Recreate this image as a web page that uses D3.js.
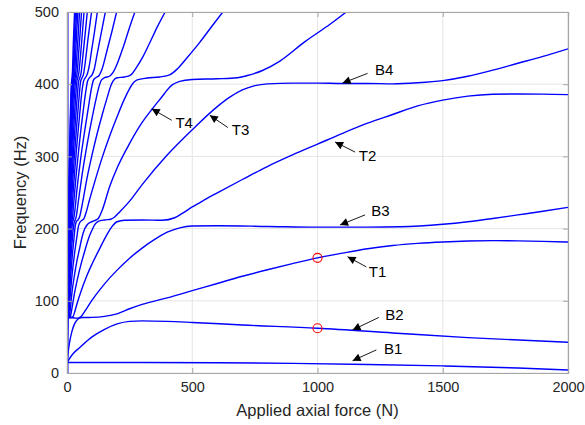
<!DOCTYPE html>
<html>
<head>
<meta charset="utf-8">
<script src="https://cdn.jsdelivr.net/npm/d3@7"></script>
<style>
  html, body { margin: 0; padding: 0; background: #ffffff; }
  svg { display: block; }
  text { font-family: "Liberation Sans", Arial, Helvetica, sans-serif; }
</style>
</head>
<body>
<svg id="chart" width="585" height="425"></svg>
<script>
// ---- tick labels ----
const xTicks = [0, 500, 1000, 1500, 2000];
const yTicks = [0, 100, 200, 300, 400, 500];
const xLabel = "Applied axial force (N)";
const yLabel = "Frequency (Hz)";

// ---- frequency branches [force N, frequency Hz] ----
const branch1 = [[0,14.5],[300,14.6],[600,14.3],[900,13.3],[1200,11.8],[1500,9.8],[1800,7],[2000,4.2]];
const branch2 = [[0,14],[10,20],[25,27],[50,35],[100,50],[150,60.5],[200,68],[250,71.5],[300,72.2],[400,71.5],[500,70],[700,66.5],[1000,62],[1300,55.5],[1600,49],[2000,42.5]];
const branch3 = [[0,15],[5,30],[10,42],[20,58],[30,68],[40,73.5],[50,76],[60,76.8],[80,76.9],[100,77],[150,78.5],[200,82],[250,89],[300,95],[400,104],[500,114],[600,124],[700,134],[800,143],[900,151.5],[1000,159.5],[1100,166],[1200,172],[1300,176.5],[1400,179.5],[1500,181.5],[1600,182.8],[1700,183.3],[1800,183],[1900,182.3],[2000,181.4]];
const branch4 = [[0,76],[20,76.5],[40,76],[55,78],[70,85],[100,101],[150,123.5],[200,142.5],[250,159],[300,173],[350,185],[400,195],[450,201],[500,203.5],[600,204],[800,203],[1000,202],[1200,202],[1330,202.5],[1500,206],[1600,209.5],[1700,214],[1800,219],[1900,224],[2000,229.5]];
const branch5 = [[0,77],[15,77],[24,78],[30,84],[40,96],[50,107],[80,135.5],[100,151],[130,172],[160,192],[180,203],[200,209.5],[230,211.5],[300,212],[380,211.5],[430,215],[460,221],[500,230],[550,240],[600,249.5],[700,268],[800,286],[900,302],[1000,317],[1100,332],[1200,346],[1300,358],[1400,370],[1500,378],[1600,383.5],[1700,386],[1800,386.5],[1900,386.3],[2000,385.5]];
const branch6 = [[0,77],[10,77],[14,79],[20,90],[30,110.5],[50,142.5],[70,168],[90,190],[100,198],[110,205],[125,210],[150,212],[175,213],[190,216],[210,223],[250,238],[300,261],[400,302],[500,337],[600,369],[650,382],[700,392],[750,398],[800,400.5],[900,401.5],[1000,401.5],[1100,401],[1200,401],[1300,400.5],[1400,402],[1500,405],[1600,411],[1700,419.5],[1800,429],[1900,438.5],[2000,449]];
const branch7 = [[0,77],[8,77.5],[12,85],[20,112],[30,136],[40,156],[50,172],[60,188],[70,199],[80,205],[95,209],[110,211],[125,214],[140,225],[170,258],[200,284],[250,318],[300,347],[350,370],[380,383],[400,392],[420,399],[450,404],[500,406.5],[600,407.5],[680,409],[720,412],[780,419],[850,432],[950,459],[1050,483],[1115,500]];
const branch8 = [[0,77],[6,78],[10,95],[20,135],[30,165],[40,190],[45,202],[52,209],[60,211.5],[68,214],[76,222],[90,240],[110,264],[140,298],[170,328],[200,355],[230,380],[250,394],[265,402],[280,406],[320,408.5],[370,410],[410,413],[440,421],[480,437],[530,458],[580,481],[622,500]];
const branch9 = [[0,0],[3.5,77],[5,80],[10,111],[20,158],[28,187],[33,204],[38,210],[44,212],[50,216],[60,232],[80,270],[100,302],[120,331],[140,357],[160,381],[175,398],[185,405],[200,409],[230,410],[255,413],[275,422],[300,436],[330,457],[360,479],[392,500]];
const branch10 = [[0,0],[3,78],[4.5,85],[10,127],[20,180],[25,200],[29,209],[33,212],[37,217],[45,237],[60,274],[80,316],[100,353],[115,378],[128,397],[138,406],[150,409],[170,411],[185,417],[200,428],[225,452],[250,479],[271,500]];
const branch11 = [[0,0],[2.3,78],[3.5,88],[8,129],[15,175],[20,202],[23,210],[26,213],[30,221],[40,255],[55,298],[70,334],[85,367],[97,393],[106,406],[115,409],[128,412],[140,421],[160,447],[180,474],[198,500]];
const branch12 = [[0,0],[2,78],[3,87],[8,143],[13,182],[17,206],[19.5,211],[22,215],[26,232],[35,268],[50,320],[65,364],[75,390],[82,404],[90,409],[100,413],[108,420],[120,441],[135,468],[153,500]];
const branch13 = [[0,0],[1.6,78],[3,96],[7,147],[11,184],[14,206],[16,211.5],[18,216],[22,238],[30,276],[40,319],[50,356],[60,391],[66,404],[73,409],[81,414],[88,424],[100,451],[110,473],[121,500]];
const branch14 = [[0,0],[1.3,78],[2.2,94],[6,148],[9,182],[12,206],[13.5,211],[15.5,218],[20,249],[28,293],[38,340],[47,377],[54,403],[60,409],[66,414],[72,428],[85,466],[98,500]];
const branch15 = [[0,0],[1.1,78],[2,95],[5,147],[8,183],[10.3,206],[11.5,211],[13,218],[17,250],[24,296],[32,341],[40,379],[46,403],[51,409],[56,415],[62,434],[72,468],[81,500]];
const branch16 = [[0,0],[1,80],[2,100],[5,158],[7,188],[8.9,206],[10,211],[11.2,218],[15,253],[20,292],[27,340],[34,380],[39.5,404],[43,409],[47,415],[52,432],[60,465],[68,500]];
const branch17 = [[0,0],[0.9,80],[1.5,95],[4,151],[6,185],[7.7,206],[8.7,211],[9.8,219],[13,254],[18,301],[24,347],[30,387],[34,404],[37,409],[40.5,416],[45,436],[52,469],[58,500]];
const branch18 = [[0,0],[0.8,80],[1.5,100],[4,161],[5.5,189],[6.8,206],[7.6,211],[8.6,219],[12,264],[16,305],[21,350],[26,390],[29.5,404],[32,409],[35,416],[40,443],[45,470],[50,500]];
const branch19 = [[0,0],[0.7,80],[1.5,105],[3.5,160],[5,190],[6,206],[6.8,211],[7.6,219],[10,257],[14,307],[19,357],[23,391],[26,404],[28.5,409],[31,418],[35,447],[40,480],[43.6,500]];
const branch20 = [[0,0],[0.6,78],[1,92],[3,156],[4.5,190],[5.4,206],[6,211],[6.8,219],[9,256],[12,301],[16,350],[20,390],[23,404],[25,409],[27.5,418],[31,449],[35,478],[38.3,500]];
const branch21 = [[0,0],[0.5,78],[1,97],[3,165],[4,193],[4.9,206],[5.4,211],[6,219],[8,256],[11,306],[14,349],[18,392],[20.6,405],[22.5,409],[24.5,418],[28,452],[31,477],[34,500]];
const branch22 = [[0,0],[0.5,80],[1,102],[2.5,160],[3.5,189],[4.4,206],[4.9,211],[5.4,219],[7,248],[10,305],[13,352],[16.5,395],[18.5,405],[20,409],[22,419],[25,454],[28,482],[30.3,500]];
const edgeBranch = [[0,0],[0,500]];

const branches = [branch1, branch2, branch3, branch4, branch5, branch6, branch7, branch8, branch9, branch10,
  branch11, branch12, branch13, branch14, branch15, branch16, branch17, branch18, branch19, branch20,
  branch21, branch22];

// ---- highlighted points ----
const markerForce = [1000, 1000];
const markerFreq = [62, 159.5];

// ---- annotations: label, arrow tip / tail / text position [N, Hz] ----
const annLabels = ["B1", "B2", "T1", "B3", "T2", "B4", "T4", "T3"];
const annTip = [[1140, 17], [1140, 59.5], [1120, 161], [1090, 205], [1070, 320], [1100, 401.5], [338, 366], [570, 357]];
const annTail = [[1235, 32], [1245, 77], [1195, 147], [1190, 219], [1150, 306], [1200, 415], [418, 350], [642, 340]];
const annText = [[1265, 27], [1270, 73], [1205, 133], [1215, 217], [1165, 293], [1230, 413], [433, 339], [658, 330]];

// ---- drawing ----
const svg = d3.select("#chart");
const margin = {left: 67, right: 17, top: 12, bottom: 52};
const W = 585, H = 425;
const x = d3.scaleLinear().domain([0, 2000]).range([margin.left, W - margin.right]);
const y = d3.scaleLinear().domain([0, 500]).range([H - margin.bottom, margin.top]);

const defs = svg.append("defs");
defs.append("clipPath").attr("id", "plotclip").append("rect")
  .attr("x", x(0)).attr("y", y(500)).attr("width", x(2000) - x(0)).attr("height", y(0) - y(500));
defs.append("marker").attr("id", "arrowhead").attr("viewBox", "0 0 10 10")
  .attr("refX", 10).attr("refY", 5).attr("markerWidth", 11).attr("markerHeight", 8)
  .attr("markerUnits", "userSpaceOnUse").attr("orient", "auto")
  .append("path").attr("d", "M0,0 L10,5 L0,10 Z").attr("fill", "#000");

// grid
const grid = svg.append("g").attr("stroke", "#e5e5e5").attr("stroke-width", 1);
xTicks.forEach(t => grid.append("line").attr("x1", x(t)).attr("x2", x(t)).attr("y1", y(0)).attr("y2", y(500)));
yTicks.forEach(t => grid.append("line").attr("x1", x(0)).attr("x2", x(2000)).attr("y1", y(t)).attr("y2", y(t)));

// curves
const lineGen = d3.line().x(d => x(d[0])).y(d => y(d[1])).curve(d3.curveMonotoneX);
const plot = svg.append("g").attr("clip-path", "url(#plotclip)");
branches.forEach(b => {
  plot.append("path").datum(b).attr("d", lineGen)
    .attr("fill", "none").attr("stroke", "#0000ff").attr("stroke-width", 1.4);
});
plot.append("path").datum(edgeBranch)
  .attr("d", d3.line().x(d => x(d[0]) + 0.8).y(d => y(d[1])))
  .attr("fill", "none").attr("stroke", "#0000ff").attr("stroke-width", 1.4);

// axes (MATLAB style box, ticks inside)
const axisColor = "#262626";
const xAxis = d3.axisBottom(x).tickValues(xTicks).tickSize(-5).tickPadding(9).tickFormat(d3.format("d"));
const yAxis = d3.axisLeft(y).tickValues(yTicks).tickSize(-5).tickPadding(8).tickFormat(d3.format("d"));
const gx = svg.append("g").attr("transform", `translate(0,${y(0)})`).call(xAxis);
const gy = svg.append("g").attr("transform", `translate(${x(0)},0)`).call(yAxis);
const gxTop = svg.append("g").attr("transform", `translate(0,${y(500)})`).call(d3.axisTop(x).tickValues(xTicks).tickSize(-5).tickFormat(""));
const gyRight = svg.append("g").attr("transform", `translate(${x(2000)},0)`).call(d3.axisRight(y).tickValues(yTicks).tickSize(-5).tickFormat(""));
[gx, gy, gxTop, gyRight].forEach(g => {
  g.select(".domain").attr("stroke", "#a6a6a6").attr("stroke-width", 1.2);
  g.selectAll(".tick line").attr("stroke", "#a6a6a6");
  g.selectAll("text").attr("fill", axisColor).attr("font-size", 14.5)
    .attr("font-family", "'Liberation Sans', Arial, sans-serif");
});

// markers
plot.selectAll("circle.mk").data(markerForce).enter().append("circle")
  .attr("cx", d => x(d)).attr("cy", (d, i) => y(markerFreq[i])).attr("r", 4.5)
  .attr("fill", "none").attr("stroke", "#ff0000").attr("stroke-width", 1.1);

// annotations
annLabels.forEach((lab, i) => {
  svg.append("line")
    .attr("x1", x(annTail[i][0])).attr("y1", y(annTail[i][1]))
    .attr("x2", x(annTip[i][0])).attr("y2", y(annTip[i][1]))
    .attr("stroke", "#000").attr("stroke-width", 0.9).attr("marker-end", "url(#arrowhead)");
  svg.append("text").attr("x", x(annText[i][0])).attr("y", y(annText[i][1]))
    .attr("font-size", 15).attr("fill", "#000").text(lab);
});

// axis labels
svg.append("text").attr("x", (x(0) + x(2000)) / 2).attr("y", 416)
  .attr("text-anchor", "middle").attr("font-size", 16.5).attr("fill", axisColor).text(xLabel);
svg.append("text").attr("transform", `translate(26,${(y(0) + y(500)) / 2}) rotate(-90)`)
  .attr("text-anchor", "middle").attr("font-size", 16.5).attr("fill", axisColor).text(yLabel);
</script>
</body>
</html>
